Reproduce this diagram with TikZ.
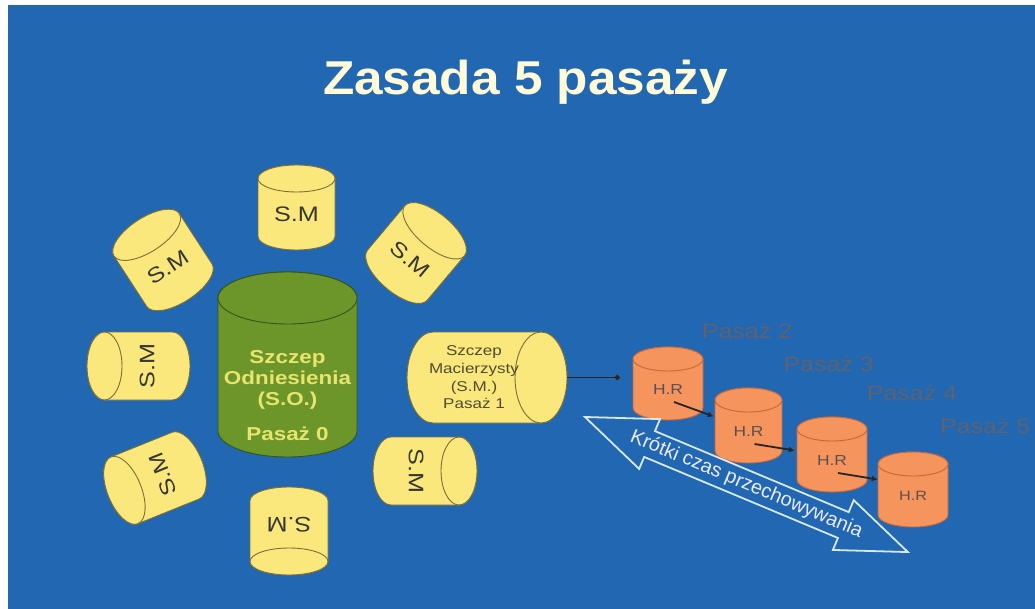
\documentclass[tikz,border=0pt]{standalone}
\usepackage{fontspec}
\setmainfont{Liberation Sans}
\newfontfamily\wsans{Liberation Sans}[FakeStretch=1.2]
\newfontfamily\tsans{Liberation Sans}[FakeStretch=1.08]
\usetikzlibrary{calc,arrows.meta}
\definecolor{bg}{RGB}{33,103,177}
\definecolor{smfill}{RGB}{250,232,125}
\definecolor{smline}{RGB}{125,110,55}
\definecolor{smtc}{RGB}{55,55,50}
\definecolor{gfill}{RGB}{108,150,42}
\definecolor{gline}{RGB}{55,85,25}
\definecolor{gtext}{RGB}{232,228,110}
\definecolor{hrfill}{RGB}{245,148,92}
\definecolor{hrline}{RGB}{195,105,60}
\definecolor{hrtc}{RGB}{90,80,80}
\definecolor{titlec}{RGB}{255,250,215}
\definecolor{pasc}{RGB}{95,98,112}
\definecolor{arrc}{RGB}{215,232,240}
\definecolor{mtc}{RGB}{80,75,50}
\newcommand{\cyl}[9]{%
 \begin{scope}[shift={(#2,-#3)},rotate=#4]
  \pgfmathsetmacro\crx{#5/2}
  \pgfmathsetmacro\chh{#6/2-#7}
  \pgfmathsetmacro\cty{-0.5*#7}
  \path[#8] (-\crx,\chh) -- (-\crx,-\chh) arc[start angle=180,end angle=360,x radius=\crx,y radius=#7] -- (\crx,\chh) arc[start angle=0,end angle=180,x radius=\crx,y radius=#7] -- cycle;
  \path[#8] (0,\chh) ellipse[x radius=\crx,y radius=#7];
  \node[transform shape,minimum width=#5pt,minimum height=#6pt,inner sep=0pt] (#1) at (0,0) {};
  \node[transform shape,inner sep=0pt,#8txt] (#1t) at (0,\cty) {#9};
 \end{scope}}
\tikzset{
 sm/.style={fill=smfill,draw=smline,line width=0.9pt},
 smtxt/.style={font=\wsans\fontsize{21}{24}\selectfont,text=smtc},
 smm/.style={fill=smfill,draw=smline,line width=0.9pt},
 smmtxt/.style={font=\wsans\fontsize{14.2}{17.7}\selectfont,text=mtc,align=center,rotate=90},
 g/.style={fill=gfill,draw=gline,line width=0.9pt},
 gtxt/.style={font=\wsans\bfseries\fontsize{18.7}{21}\selectfont,text=gtext,align=center,yshift=-18pt},
 hr/.style={fill=hrfill,draw=hrline,line width=0.9pt},
 hrtxt/.style={font=\wsans\fontsize{14.5}{17}\selectfont,text=hrtc},
 hrs/.style={fill=hrfill,draw=hrline,line width=0.9pt},
 hrstxt/.style={font=\wsans\fontsize{13.5}{16}\selectfont,text=hrtc},
 pas/.style={font=\wsans\fontsize{20.8}{24}\selectfont,text=pasc,anchor=base west,inner sep=0pt},
 hrarr/.style={draw=black!85,line width=1.8pt,-{Latex[length=6pt,width=6pt]}},
 dotconn/.style={draw=black!85,line width=1.6pt,-{Circle[length=5pt]}},
}
\begin{document}
\begin{tikzpicture}[x=1pt,y=1pt]
\useasboundingbox (0,0) rectangle (1035,-609);
\clip (0,0) rectangle (1035,-609);
\fill[white] (0,0) rectangle (1035,-609);
\fill[bg] (8,-5) rectangle (1035,-609);
% title
\node[font=\tsans\bfseries\fontsize{47.5}{52}\selectfont,text=titlec,anchor=base] (title) at (525.5,-95) {Zasada 5 pasaży};
% S.M satellites
\cyl{smA}{296.5}{207.5}{0}{77}{85}{13.5}{sm}{S.M}
\cyl{smB}{163}{260}{33}{78}{94}{17}{sm}{S.M}
\cyl{smC}{416}{253}{-40}{78}{92}{17}{sm}{S.M}
\cyl{smD}{138.5}{366}{90}{68}{103}{17.5}{sm}{S.M}
\cyl{smE}{155}{478}{112}{72}{100}{17}{sm}{S.M}
\cyl{smF}{289}{531}{180}{78}{88}{13.5}{sm}{S.M}
\cyl{smG}{425}{471}{-90}{68}{104}{18}{sm}{S.M}
% reference strain
\cyl{so}{287.5}{364.5}{0}{139}{185}{26}{g}{Szczep\\Odniesienia\\(S.O.)\\[14pt]Pasaż 0}
% mother strain
\cyl{smain}{487}{377.5}{-90}{91}{160}{26}{smm}{Szczep\\Macierzysty\\(S.M.)\\Pasaż 1}
% H.R cylinders
\cyl{hrA}{668}{383.5}{0}{70}{73}{12}{hr}{H.R}
\cyl{hrB}{748.5}{425.5}{0}{67}{75}{12}{hr}{H.R}
\cyl{hrC}{832}{454.5}{0}{70}{75}{12}{hr}{H.R}
\cyl{hrD}{913}{489.5}{0}{70}{75}{12}{hrs}{H.R}
% connectors
\draw[dotconn,shorten >=13pt] (smain.north) -- (smain.north -| hrA.west);
\draw[hrarr] ($(hrAt.center)+(6,-12.5)$) -- ($(hrB.west)+(-1,9)$);
\draw[hrarr] ($(hrBt.center)+(6,-12.5)$) -- ($(hrC.west)+(-2,4)$);
\draw[hrarr] ($(hrCt.center)+(6,-12.5)$) -- ($(hrD.west)+(0,10)$);
% passage labels
\node[pas] (p2) at (701.7,-338.3) {Pasaż 2};
\node[pas] (p3) at (783.3,-371.7) {Pasaż 3};
\node[pas] (p4) at (866.7,-400) {Pasaż 4};
\node[pas] (p5) at (940,-433) {Pasaż 5};
% double arrow
\begin{scope}[shift={(585,-417)},rotate=-22.7]
 \draw[arrc,line width=1.8pt,line join=miter] (0,0) -- (70,27) -- (70,14) -- (280,14) -- (280,27) -- (350,0) -- (280,-27) -- (280,-14) -- (70,-14) -- (70,-27) -- cycle;
 \node[font=\fontsize{19.9}{22}\selectfont,text=white!92!blue,transform shape,inner sep=0pt] (keep) at (175,0) {Krótki czas przechowywania};
\end{scope}
\end{tikzpicture}
\end{document}
